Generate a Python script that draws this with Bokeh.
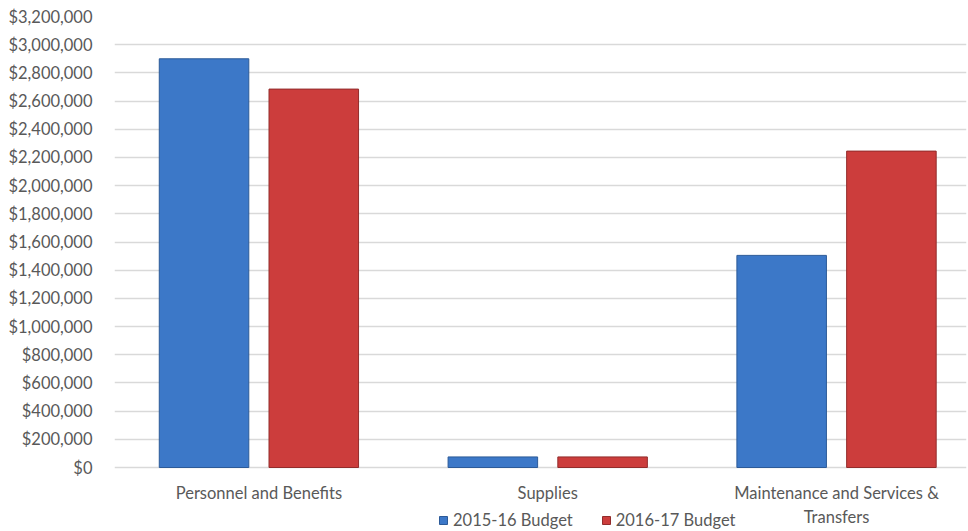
from bokeh.plotting import figure
from bokeh.models import ColumnDataSource, Range1d, FixedTicker, Legend, LegendItem, NumeralTickFormatter
from bokeh.transform import dodge
from bokeh.embed import file_html
from bokeh.resources import INLINE

categories = ["Personnel and Benefits", "Supplies", "Maintenance and Services & Transfers"]
budget_2015_16 = [2900000, 75000, 1505000]
budget_2016_17 = [2685000, 75000, 2245000]
series_names = ["2015-16 Budget", "2016-17 Budget"]
y_ticks = list(range(0, 3200001, 200000))

FONT = "Lato"
TXT = "#595959"
FS = "16.5px"

# layout: frame runs from y=16 to the window bottom (531); value 0 sits at y=467
Y_MAX = 3200000
PX_PER_UNIT = (467 - 16) / Y_MAX
Y_MIN = -(531 - 467) / PX_PER_UNIT

pos = [i + 0.5 for i in range(len(categories))]
src = ColumnDataSource(dict(x=pos, a=budget_2015_16, b=budget_2016_17, cat=categories))

p = figure(width=968, height=531, output_backend="svg", toolbar_location=None,
           x_range=Range1d(0, 2.95), y_range=Range1d(Y_MIN, Y_MAX),
           min_border_left=114, min_border_right=2, min_border_top=16, min_border_bottom=0)
p.outline_line_color = None
p.background_fill_color = "white"
p.border_fill_color = "white"

r1 = p.vbar(x=dodge("x", -0.19), top="a", bottom=0, width=0.31, source=src,
            fill_color="#3c78c8", line_color="#2c5a98", line_width=1)
r2 = p.vbar(x=dodge("x", 0.19), top="b", bottom=0, width=0.31, source=src,
            fill_color="#cc3d3c", line_color="#922c2b", line_width=1)

# axes
p.xaxis.fixed_location = 0
p.xaxis.ticker = FixedTicker(ticks=pos)
p.xaxis.major_label_overrides = {pos[0]: categories[0], pos[1]: categories[1],
                                 pos[2]: "Maintenance and Services &\nTransfers"}
p.yaxis.ticker = FixedTicker(ticks=y_ticks)
p.yaxis.formatter = NumeralTickFormatter(format="$0,0")
for ax in (p.xaxis[0], p.yaxis[0]):
    ax.axis_line_color = None
    ax.major_tick_line_color = None
    ax.minor_tick_line_color = None
    ax.major_tick_out = 0
    ax.major_tick_in = 0
    ax.minor_tick_out = 0
    ax.major_label_text_font = FONT
    ax.major_label_text_font_size = FS
    ax.major_label_text_color = TXT
p.yaxis.major_label_standoff = 22
p.xaxis.major_label_standoff = 15

p.xgrid.grid_line_color = None
p.ygrid.ticker = FixedTicker(ticks=y_ticks)
p.ygrid.grid_line_color = "#d9d9d9"
p.ygrid.grid_line_width = 1.5

legend = Legend(items=[LegendItem(label=series_names[0], renderers=[r1]),
                       LegendItem(label=series_names[1], renderers=[r2])],
                orientation="horizontal", location=(324, 1),
                padding=0, margin=0, spacing=28, label_standoff=5,
                glyph_width=10, glyph_height=10,
                label_text_font=FONT, label_text_font_size=FS, label_text_color=TXT,
                border_line_color=None, background_fill_alpha=0)
p.add_layout(legend, "center")

open("out.html", "w").write(file_html(p, INLINE))
